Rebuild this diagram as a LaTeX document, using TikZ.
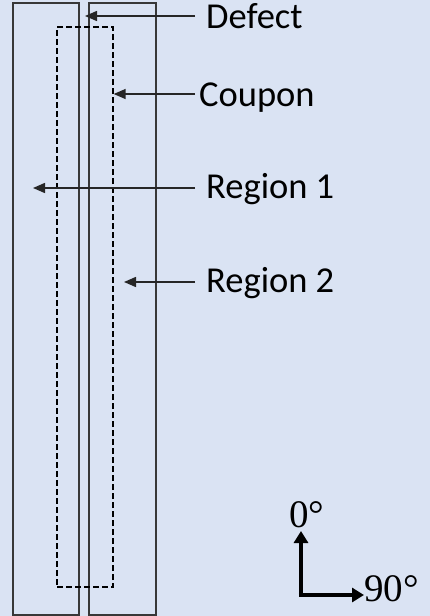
\documentclass[tikz,border=0pt]{standalone}
\usepackage{fontspec}
\setmainfont{Carlito}
\newfontfamily\serifdeg{Liberation Serif}
\usetikzlibrary{arrows.meta}
\definecolor{bgblue}{HTML}{DAE3F3}
\definecolor{edgegray}{HTML}{383838}
\tikzset{
  region/.style={draw=edgegray, line width=1.5pt},
  coupon/.style={draw=black, line width=1.4pt, dash pattern=on 6pt off 3pt},
  pointer/.style={draw=black!85, line width=1.5pt, -{Triangle[length=12pt,width=10pt]}},
  lbl/.style={anchor=base west, inner sep=0pt, font=\fontsize{36.5}{36.5}\selectfont},
  axis/.style={draw=black, line width=4.5pt, -{Triangle[length=12pt,width=14pt]}},
  deg/.style={inner sep=0pt, font=\serifdeg\fontsize{39}{39}\selectfont}
}
\begin{document}
\begin{tikzpicture}[x=1pt,y=-1pt]
\useasboundingbox (0,0) rectangle (430,616);
\fill[bgblue] (0,0) rectangle (430,616);
\node[region, minimum width=66pt, minimum height=612pt, inner sep=0pt] (r1) at (46,309) {};
\node[region, minimum width=67pt, minimum height=612pt, inner sep=0pt] (r2) at (122.5,309) {};
\node[coupon, minimum width=56pt, minimum height=560pt, inner sep=0pt] (cp) at (85,307) {};
\node[lbl] (tdef) at (206,28) {Defect};
\node[lbl] (tcou) at (199,106) {Coupon};
\node[lbl] (tr1) at (206,198) {Region 1};
\node[lbl] (tr2) at (206,292) {Region 2};
\coordinate (edef) at (85,16);
\coordinate (er1) at (33,188);
\coordinate (er2) at (124,282);
\draw[pointer] (195,16) -- (edef);
\draw[pointer] (195,94) -- (cp.east |- 0,94);
\draw[pointer] (195,188) -- (er1);
\draw[pointer] (195,282) -- (er2);
\coordinate (corner) at (301,595);
\coordinate (up) at (301,531);
\coordinate (right) at (364,595);
\draw[axis] ([yshift=2.25pt]corner) -- (up);
\draw[axis] ([xshift=-2.25pt]corner) -- (right);
\node[deg, anchor=base] (t0) at (307,527) {0°};
\node[deg, anchor=base west] (t90) at (364,601) {90°};
\end{tikzpicture}
\end{document}
